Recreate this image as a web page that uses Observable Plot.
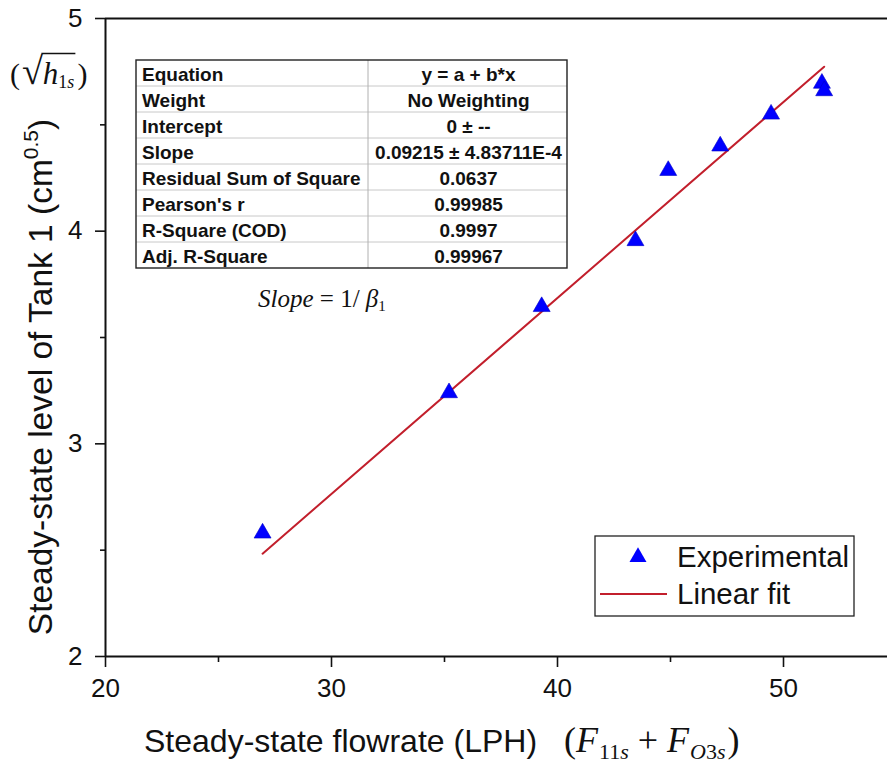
<!DOCTYPE html>
<html>
<head>
<meta charset="utf-8">
<script src="https://cdn.jsdelivr.net/npm/d3@7"></script>
<script src="https://cdn.jsdelivr.net/npm/@observablehq/plot@0.6"></script>
<style>
  body { margin: 0; background: #fff; overflow: hidden; }
  #chart svg { display: block; overflow: hidden; }
</style>
</head>
<body>
<div id="chart"></div>
<script>
// Steady-state measurements for Tank 1
const flowrate = [26.95, 35.2, 39.3, 43.45, 44.9, 47.2, 49.45, 51.7, 51.8];   // LPH
const level    = [2.58, 3.24, 3.645, 3.955, 4.285, 4.40, 4.55, 4.695, 4.66];   // sqrt(cm)

// Linear fit through the origin
const slope = 0.09215;
const intercept = 0;

// Axis ticks
const xTicks = [20, 30, 40, 50];
const xMinorTicks = [25, 35, 45];
const yTicks = [2, 3, 4, 5];
const yMinorTicks = [2.5, 3.5, 4.5];

// Fit statistics table
const statNames  = ["Equation", "Weight", "Intercept", "Slope", "Residual Sum of Square", "Pearson's r", "R-Square (COD)", "Adj. R-Square"];
const statValues = ["y = a + b*x", "No Weighting", "0 \u00b1 --", "0.09215 \u00b1 4.83711E-4", "0.0637", "0.99985", "0.9997", "0.99967"];

const legendLabels = ["Experimental", "Linear fit"];

const points = flowrate.map((x, i) => ({x, y: level[i]}));
const fitLine = d3.extent(flowrate).map(x => ({x, y: intercept + slope * x}));

const BLUE = "#0000ff";
const RED = "#c21f2c";
const SANS = "'Liberation Sans', Arial, sans-serif";
const SERIF = "'Liberation Serif', 'Times New Roman', serif";
const TRI_R = 6.3;

const plot = Plot.plot({
  width: 887,
  height: 765,
  marginTop: 18,
  marginBottom: 109,
  marginLeft: 105,
  marginRight: 0,
  x: {domain: [20, 55], range: [105, 896]},
  y: {domain: [2, 5], range: [656, 18]},
  style: {background: "white", color: "#111", fontFamily: SANS},
  marks: [
    Plot.axisY(yTicks, {tickSize: 10, tickPadding: 13, fontSize: 26, tickFormat: d3.format("d"), label: null, strokeWidth: 1.6}),
    Plot.axisY(yMinorTicks, {tickSize: 5, text: null, label: null, strokeWidth: 1.6}),
    Plot.axisX(xTicks, {tickSize: 11, tickPadding: 11, fontSize: 26, tickFormat: d3.format("d"), label: null, strokeWidth: 1.6}),
    Plot.axisX(xMinorTicks, {tickSize: 6, text: null, label: null, strokeWidth: 1.6}),
    Plot.ruleX([20], {stroke: "#111", strokeWidth: 2}),
    Plot.ruleX([55], {stroke: "#111", strokeWidth: 2}),
    Plot.ruleY([2], {stroke: "#111", strokeWidth: 2}),
    Plot.ruleY([5], {stroke: "#111", strokeWidth: 2}),
    Plot.line(fitLine, {x: "x", y: "y", stroke: RED, strokeWidth: 2}),
    Plot.dot(points, {x: "x", y: "y", symbol: "triangle", r: TRI_R, fill: BLUE, stroke: "#0000c8", strokeWidth: 0.6})
  ]
});

document.getElementById("chart").appendChild(plot);
const svg = d3.select(plot);

// Lay out a run of text pieces left to right (used for the math annotations)
function runs(g, x, y, pieces) {
  let cx = x;
  const placed = [];
  for (const p of pieces) {
    cx += p.pre || 0;
    const t = g.append("text")
      .attr("x", cx)
      .attr("y", y + (p.dy || 0))
      .attr("text-anchor", "start")
      .attr("font-family", p.family || SERIF)
      .attr("font-size", p.size)
      .attr("font-style", p.italic ? "italic" : "normal")
      .attr("fill", "#111")
      .text(p.t);
    const w = t.node().getComputedTextLength();
    placed.push({x0: cx, x1: cx + w});
    cx += w + (p.gap || 0);
  }
  return placed;
}

// Fit statistics table
const table = svg.append("g");
const tx0 = 136, tx1 = 567, tcol = 368, ty0 = 60, rowH = 26;
statNames.forEach((name, i) => {
  const y = ty0 + i * rowH;
  if (i > 0) table.append("line").attr("x1", tx0).attr("x2", tx1).attr("y1", y).attr("y2", y)
    .attr("stroke", "#c8c8c8").attr("stroke-width", 1);
  table.append("text").attr("x", tx0 + 6).attr("y", y + 20.5).attr("text-anchor", "start")
    .attr("font-family", SANS).attr("font-weight", "bold").attr("font-size", 19).attr("fill", "#111").text(name);
  table.append("text").attr("x", (tcol + tx1) / 2 + 1).attr("y", y + 20.5).attr("text-anchor", "middle")
    .attr("font-family", SANS).attr("font-weight", "bold").attr("font-size", 19).attr("fill", "#111").text(statValues[i]);
});
table.append("line").attr("x1", tcol).attr("x2", tcol).attr("y1", ty0).attr("y2", ty0 + rowH * statNames.length)
  .attr("stroke", "#b0b0b0").attr("stroke-width", 1);
table.append("rect").attr("x", tx0).attr("y", ty0).attr("width", tx1 - tx0).attr("height", rowH * statNames.length)
  .attr("fill", "none").attr("stroke", "#222").attr("stroke-width", 1.4);

// Slope = 1/β1
runs(svg.append("g"), 258, 307, [
  {t: "Slope", italic: true, size: 25},
  {t: " = 1/ ", size: 25},
  {t: "\u03b2", italic: true, size: 25},
  {t: "1", size: 15, dy: 4}
]);

// Legend
const lg = svg.append("g");
lg.append("rect").attr("x", 595).attr("y", 536).attr("width", 259).attr("height", 80)
  .attr("fill", "white").attr("stroke", "#222").attr("stroke-width", 1.3);
lg.append("path").attr("transform", "translate(638,557)")
  .attr("d", d3.symbol(d3.symbolTriangle, Math.PI * TRI_R * TRI_R)()).attr("fill", BLUE);
lg.append("line").attr("x1", 600).attr("x2", 667).attr("y1", 594).attr("y2", 594).attr("stroke", RED).attr("stroke-width", 2);
lg.append("text").attr("x", 677).attr("y", 567).attr("text-anchor", "start").attr("font-family", SANS).attr("font-size", 29.5).attr("fill", "#111").text(legendLabels[0]);
lg.append("text").attr("x", 677).attr("y", 604).attr("text-anchor", "start").attr("font-family", SANS).attr("font-size", 29.5).attr("fill", "#111").text(legendLabels[1]);

// Y axis title
const yt = svg.append("text").attr("transform", "translate(52,377) rotate(-90)").attr("text-anchor", "middle")
  .attr("font-family", SANS).attr("font-size", 33.5).attr("fill", "#111");
yt.append("tspan").text("Steady-state level of Tank 1 (cm");
yt.append("tspan").attr("font-size", 21).attr("dy", -14).text("0.5");
yt.append("tspan").attr("dy", 14).text(")");

// (√h1s) beside the top of the y axis
const sq = svg.append("g");
const sp = runs(sq, 10, 84, [
  {t: "(", size: 30},
  {t: "\u221a", size: 38, pre: 2},
  {t: "h", italic: true, size: 31},
  {t: "1", size: 18, dy: 4},
  {t: "s", italic: true, size: 18, dy: 4, gap: 3},
  {t: ")", size: 30}
]);
sq.append("line").attr("x1", sp[1].x1 - 1.5).attr("x2", sp[4].x1 + 1).attr("y1", 53.5).attr("y2", 53.5)
  .attr("stroke", "#111").attr("stroke-width", 1.4);

// X axis title
svg.append("text").attr("x", 144).attr("y", 752).attr("text-anchor", "start").attr("font-family", SANS).attr("font-size", 32).attr("fill", "#111")
  .text("Steady-state flowrate (LPH)");
runs(svg.append("g"), 564, 752, [
  {t: "(", size: 36},
  {t: "F", italic: true, size: 36, gap: 1},
  {t: "11", size: 22, dy: 7},
  {t: "s", italic: true, size: 22, dy: 7},
  {t: " + ", size: 36},
  {t: "F", italic: true, size: 36, gap: 1},
  {t: "O", italic: true, size: 22, dy: 7},
  {t: "3", size: 22, dy: 7},
  {t: "s", italic: true, size: 22, dy: 7, gap: 2},
  {t: ")", size: 36}
]);
</script>
</body>
</html>
